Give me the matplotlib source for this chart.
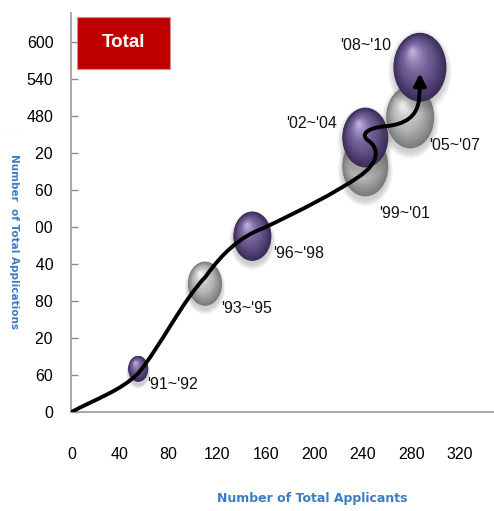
import numpy as np
import matplotlib
matplotlib.use("Agg")
import matplotlib.pyplot as plt
from matplotlib.patches import Ellipse, Rectangle, FancyArrowPatch
from matplotlib.path import Path
from matplotlib.transforms import Affine2D, ScaledTranslation

# Period bubbles: applicants (x), applications (y), bubble width in px
periods = ["'91~'92", "'93~'95", "'96~'98", "'99~'01", "'02~'04", "'05~'07", "'08~'10"]
applicants = [55, 110, 149, 242, 242, 279, 287]
applications = [70, 208, 285, 398, 445, 478, 559]
bubble_size = [20, 34, 38, 46, 46, 48, 53]
bubble_tone = ["purple", "gray", "purple", "gray", "purple", "gray", "purple"]

x_ticks = [0, 40, 80, 120, 160, 200, 240, 280, 320]
y_ticks = [0, 60, 120, 180, 240, 300, 360, 420, 480, 540, 600]

# trend curve (cubic bezier knots and control points, data units)
trend_pts = [(0, 0), (19.8, 21.1), (40.4, 34.1), (55.3, 63.4),
             (73.4, 107.3), (91.5, 180.5), (110.5, 219.5),
             (124.5, 258.5), (139.4, 284.6), (157.5, 297.6),
             (188.9, 326.8), (217.7, 356.1), (235.9, 380.5),
             (254.8, 404.9), (253.2, 429.3), (244.1, 440.6),
             (236.7, 452.0), (246.6, 461.8), (259.0, 463.4),
             (275.5, 466.7), (284.5, 479.7), (286.2, 505.7),
             (287.0, 521.9), (287.0, 536.0), (287.0, 549.0)]

# label offsets from bubble centre (pixels) and alignment
label_offsets = [(9, -16, "left"), (16, -25, "left"), (21, -17, "left"),
                 (14, -47, "left"), (-28, 14, "right"), (19, -28, "left"),
                 (-29, 22, "right")]

tones = {
    "purple": ("#3a2b58", "#6a5990", "#b9aad6"),
    "gray": ("#7a7a7a", "#b8b8b8", "#f4f4f4"),
}

NUM_FONT = ["Liberation Sans", "DejaVu Sans"]
BLUE = "#3b7cc4"


def mix(c1, c2, t):
    a = np.array(matplotlib.colors.to_rgb(c1))
    b = np.array(matplotlib.colors.to_rgb(c2))
    return tuple(a + (b - a) * t)


def draw_sphere(ax, x, y, width, tone, z):
    edge, body, hi = tones[tone]
    height = width * 1.3
    base = ScaledTranslation(x, y, ax.transData)
    # soft shadow under the sphere
    for k in range(6):
        grow = 1.0 + 0.04 * k
        e = Ellipse((0, -4), width * grow, height * grow, facecolor="#555555",
                    edgecolor="none", alpha=0.05,
                    transform=Affine2D() + base, zorder=z)
        ax.add_patch(e)
    n = 36
    hx, hy = -0.14 * width, 0.22 * height
    for k in range(n):
        t = k / (n - 1)
        f = 1 - 0.92 * t
        if t < 0.45:
            col = mix(edge, body, t / 0.45)
        else:
            col = mix(body, hi, ((t - 0.45) / 0.55) ** 1.4)
        e = Ellipse((hx * t, hy * t), width * f, height * f, facecolor=col,
                    edgecolor="none", transform=Affine2D() + base, zorder=z + 0.01)
        ax.add_patch(e)


fig = plt.figure(figsize=(4.94, 5.11), dpi=100)
ax = fig.add_axes([0.1447, 0.1937, 1.0 - 0.1447, 0.9746 - 0.1937])

ax.set_xlim(0, 348)
ax.set_ylim(0, 647)
ax.set_xticks(x_ticks)
ax.set_yticks(y_ticks)
ax.set_xticklabels([str(v) for v in x_ticks], family=NUM_FONT, fontsize=11.5)
ax.set_yticklabels([str(v) for v in y_ticks], family=NUM_FONT, fontsize=11.5)
ax.tick_params(axis="x", length=0, pad=25)
ax.tick_params(axis="y", direction="in", length=5, width=1, color="#8c8c8c", pad=13)
for side in ["top", "right"]:
    ax.spines[side].set_visible(False)
for side in ["left", "bottom"]:
    ax.spines[side].set_color("#a0a0a0")
    ax.spines[side].set_linewidth(1.3)

for i, (x, y, w, tone) in enumerate(zip(applicants, applications, bubble_size, bubble_tone)):
    draw_sphere(ax, x, y, w, tone, 2 + i * 0.1)
    dx, dy, ha = label_offsets[i]
    ax.annotate(periods[i], (x, y), xytext=(dx, dy), textcoords="offset pixels",
                ha=ha, va="center", family=NUM_FONT, fontsize=11.5, color="#111111",
                zorder=5)

codes = [Path.MOVETO] + [Path.CURVE4] * (len(trend_pts) - 1)
trend = Path(trend_pts, codes)
arrow = FancyArrowPatch(path=trend, arrowstyle="-|>,head_length=7,head_width=3.6",
                        color="black", linewidth=2.8, zorder=4)
ax.add_patch(arrow)

# title tag
fig.patches.append(Rectangle((0.1559, 0.865), 0.1883, 0.1018, transform=fig.transFigure,
                             facecolor="#c00000", edgecolor="#d88c8c", linewidth=0.8, zorder=3))
fig.text(0.25, 0.9159, "Total", color="white", fontsize=13.5, fontweight="bold",
         family="Liberation Sans", ha="center", va="center", zorder=4)

# panel on the left behind the y-axis title
fig.patches.append(Rectangle((0, 0.178), 0.0729, 0.5636, transform=fig.transFigure,
                             facecolor="white", edgecolor="none", zorder=3))
fig.lines.append(plt.Line2D([0, 0.057], [0.7416, 0.7416], transform=fig.transFigure,
                            color="#e6e6e6", linewidth=0.8, zorder=3))

fig.text(0.0283, 0.528, "Number  of Total Applications", rotation=270, color=BLUE,
         fontsize=7.5, fontweight="bold", family="DejaVu Sans", ha="center", va="center", zorder=4)
fig.text(0.6316, 0.0254, "Number of Total Applicants", color=BLUE,
         fontsize=9, fontweight="bold", family="DejaVu Sans", ha="center", va="center", zorder=4)

fig.savefig("out.png", dpi=100)
